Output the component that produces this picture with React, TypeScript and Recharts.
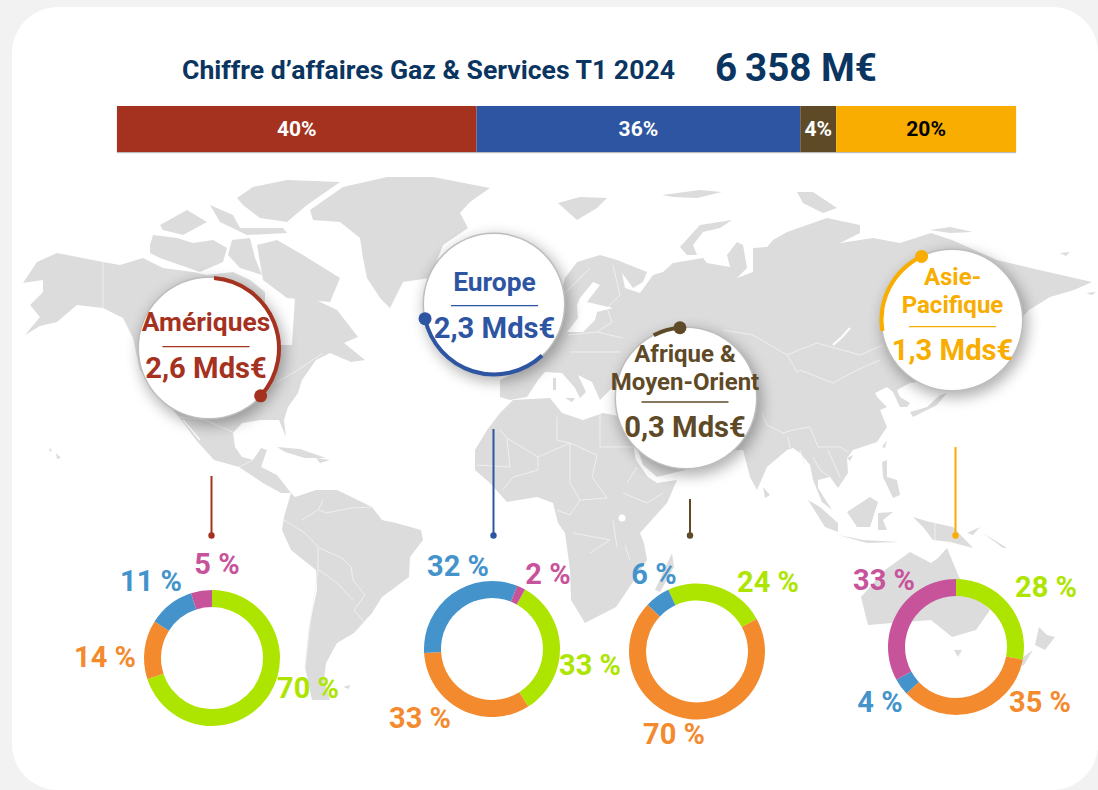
import { Bar, BarChart, Cell, LabelList, Pie, PieChart, XAxis, YAxis } from "recharts"

const WIDTH = 1098
const HEIGHT = 790

// chiffre d'affaires par region (%)
const regionNames = ["Amériques", "Europe", "Afrique & Moyen-Orient", "Asie-Pacifique"]
const regionShares = [40, 36, 4, 20]
const regionColors = ["#A5321F", "#2E55A2", "#5F4A28", "#F8AD00"]
const regionAmounts = ["2,6 Mds€", "2,3 Mds€", "0,3 Mds€", "1,3 Mds€"]
const regionTitleLines = [["Amériques"], ["Europe"], ["Afrique &", "Moyen-Orient"], ["Asie-", "Pacifique"]]

// length of the arc round each bubble, % of the full circle, as drawn in the picture
const arcLengths = [35.5, 33.6, 6.2, 20.4]

// donuts: segments go clockwise, same colour order everywhere
const ameriquesMix = [70, 14, 11, 5]
const europeMix = [33, 33, 32, 2]
const afriqueMix = [24, 70, 6]
const asieMix = [28, 35, 4, 33]
const mixColors = ["#ADE500", "#F48A2E", "#4493CB", "#C7539B"]

const donuts = [
  { values: ameriquesMix, cx: 212, cy: 658, start: 0, labels: [[308, 688], [105, 657], [151, 581], [217, 564]] },
  { values: europeMix, cx: 492, cy: 649, start: 29, labels: [[590, 665], [420, 718], [458, 566], [548, 574]] },
  { values: afriqueMix, cx: 697, cy: 651.5, start: -25, labels: [[768, 582], [674, 734], [654, 574]] },
  { values: asieMix, cx: 956, cy: 647, start: 0, labels: [[1046, 587], [1040, 702], [880, 702], [884, 580]] },
]

const bubbles = [
  { cx: 208.5, cy: 348.4, arcStart: 4.5, tx: 206, titleY: [322], divY: 346.7, amountY: 367.7, lineX: 211.5, lineTop: 476 },
  { cx: 494, cy: 304, arcStart: 137, tx: 494.5, titleY: [281.7], divY: 305.7, amountY: 328, lineX: 493.5, lineTop: 429 },
  { cx: 685.7, cy: 398, arcStart: -27, tx: 685, titleY: [354, 382], divY: 402, amountY: 427, lineX: 690, lineTop: 499 },
  { cx: 952, cy: 320, arcStart: 261, tx: 952.5, titleY: [276.7, 305], divY: 326.7, amountY: 350, lineX: 955.5, lineTop: 447 },
]

const barRow = [
  regionNames.reduce<Record<string, string | number>>(
    (row, name, i) => {
      row[name] = regionShares[i]
      return row
    },
    { name: "CA" },
  ),
]

// rough outline of the background map
const land = [
  // north america
  "25,335 40,326 57,322 77,305 103,308 123,318 133,338 140,370 160,395 179,417 196,440 214,460 239,467 263,483 281,493 291,493 277,475 261,467 267,450 261,448 253,460 242,457 235,447 233,433 242,423 260,420 279,420 286,437 284,420 288,407 298,393 302,380 316,360 330,353 351,362 365,360 344,343 358,337 337,310 316,300 295,297 292,345 265,345 265,292 250,280 233,272 207,275 193,272 163,268 143,258 120,265 103,262 57,253 37,262 23,283 43,280 43,292 30,305 40,317",
  "150,245 153,235 177,238 193,243 213,240 227,248 223,262 200,272 180,265 160,258 150,253",
  "160,225 187,210 207,222 183,235 163,230",
  "210,205 233,215 240,228 283,228 287,233 247,235 220,222",
  "237,198 253,187 287,180 340,182 307,205 287,222 260,218 243,205",
  "232,240 250,238 255,258 262,275 240,268 228,255",
  "257,245 277,240 303,255 340,278 330,302 287,298 263,280",
  // greenland
  "310,210 343,187 387,177 433,177 490,188 470,202 460,213 468,228 443,245 430,278 403,282 390,308 380,298 367,278 363,258 360,238 340,222 313,220",
  // arctic islands
  "558,203 580,197 607,198 597,208 577,220 568,212",
  "680,247 700,225 732,220 720,228 703,232 693,245 697,255 687,255",
  "662,195 700,190 722,192 697,198 673,197",
  "797,192 813,192 837,208 823,213 803,203",
  "930,230 950,227 973,232 950,233",
  "1060,253 1070,252 1066,256",
  "1086,293 1096,292 1092,295",
  // eurasia
  "500,397 500,380 525,368 530,345 555,320 565,278 577,262 600,255 617,260 647,272 643,282 633,288 622,273 625,288 640,293 653,275 663,272 673,263 703,258 707,263 730,267 727,255 737,242 743,245 747,268 737,278 753,272 753,248 767,247 773,240 787,232 827,218 860,225 860,233 840,243 873,238 900,243 931,233 952,240 997,260 1039,270 1092,282 1074,290 1050,297 1029,310 1010,330 985,365 945,378 910,383 897,390 900,397 910,403 907,407 900,407 893,392 887,387 875,393 878,398 887,407 880,410 887,427 877,442 853,450 847,458 848,473 838,488 830,477 818,480 818,488 832,510 822,502 813,480 810,465 800,453 793,448 787,450 767,467 757,490 750,477 743,450 700,452 685,470 657,477 643,465 630,425 632,412 640,395 612,388 600,400 592,382 578,375 586,392 580,398 575,388 562,373 545,372 538,380 527,397 510,400",
  // africa
  "475,450 487,430 500,413 513,400 550,398 562,413 583,420 603,413 628,418 636,460 648,477 657,483 677,480 667,503 640,533 644,543 647,560 623,597 616,607 585,623 571,600 570,570 565,533 558,523 553,503 537,497 507,502 490,483 475,470",
  "655,590 672,553 674,567 660,592",
  // south america
  "291,493 295,497 316,490 337,490 372,507 382,520 396,523 421,530 423,540 410,557 409,577 382,597 372,613 354,633 337,643 326,663 324,680 330,700 312,700 305,667 309,627 317,590 316,570 291,550 282,530 284,517",
  // asia pacific
  "947,393 937,405 913,417 910,412 927,407 940,395",
  "882,447 887,440 885,448",
  "847,458 853,455 850,461",
  "882,462 887,460 887,477 897,480 900,495 893,498 883,477",
  "763,487 770,495 765,498",
  "808,500 820,507 838,523 838,532 825,527",
  "847,512 870,497 878,502 870,527 857,527",
  "838,535 863,540 900,542 867,543",
  "878,513 893,512 883,520 887,530 878,530",
  "913,517 923,520 930,522 953,527 973,548 950,542 933,540 923,527",
  "967,533 980,527 973,535",
  "983,533 1007,548 1003,548",
  "947,548 959,577 990,610 976,630 952,637 931,620 905,622 868,625 861,597 885,570 910,552 931,563 938,558",
  "954,650 962,650 958,657",
  "1039,627 1047,635 1055,637 1045,650 1035,645",
  "1033,650 1024,665 1018,667 1022,658",
  // caribbean and small islands
  "277,447 300,449 326,458 305,458 285,452",
  "316,458 330,460 320,463",
  "49,448 52,450 50,452",
  "56,453 61,458 57,459",
  "343,687 350,685 349,689",
  "553,378 556,378 556,390 553,390",
  "565,398 575,398 572,402",
]

const borders = [
  "723,330 753,335 787,355 817,343 860,355 883,345",
  "787,355 797,372 800,370 833,383 857,370 880,360",
  "762,413 767,425 783,433 793,430 810,427 818,447 840,447 848,452",
  "788,437 790,448",
  "800,450 805,465",
  "813,457 820,470 830,477",
  "828,450 840,477",
  "568,335 597,332 623,338",
  "607,308 612,322 597,332",
  "570,352 600,352 620,352",
  "590,268 563,295",
  "613,265 620,295 607,308",
  "103,262 103,308",
  "277,382 298,370 323,353",
  "179,417 205,420 235,433",
  "239,467 253,460",
  "284,520 305,533 319,548 342,558 351,567 353,580 365,595 354,610 365,623",
  "318,548 318,570 311,617 305,667",
  "319,570 337,583 353,600",
  "319,510 326,513 351,508 372,507",
  "302,520 318,510 323,500",
  "507,438 538,457 570,443 557,440 557,417",
  "500,430 507,438 510,467 477,465",
  "538,457 538,470 513,477 503,490",
  "570,443 597,455 592,477 607,498 580,500 570,483 570,443",
  "600,413 600,447 633,447",
  "623,493 647,503 663,493",
  "627,483 637,467",
  "580,500 570,515 557,510",
  "613,520 617,547",
  "625,545 630,560",
  "573,533 610,540 590,553",
  "935,522 935,541",
]

const donutLabel =
  (values: number[], labels: number[][]) =>
  ({ index }: { index: number }) => (
    <text
      x={labels[index][0]}
      y={labels[index][1]}
      textAnchor="middle"
      dominantBaseline="central"
      fontFamily="Roboto"
      fontWeight={700}
      fontSize={29}
      fill={mixColors[index]}
    >
      {`${values[index]} %`}
    </text>
  )

function WorldMap() {
  return (
    <svg width={WIDTH} height={HEIGHT} style={{ position: "absolute", left: 0, top: 0 }}>
      {land.map((points, i) => (
        <polygon key={i} points={points} fill="#DCDCDC" />
      ))}
      {borders.map((points, i) => (
        <polyline key={i} points={points} fill="none" stroke="#F4F4F4" strokeWidth={0.8} />
      ))}
      <polygon
        points="580,298 593,282 600,285 587,302 613,308 597,312 595,320 583,332 567,332 578,318 577,305"
        fill="#fff"
      />
      <polyline points="833,345 842,337 850,328" fill="none" stroke="#fff" strokeWidth={2} />
      <circle cx={622} cy={518} r={3.5} fill="#fff" />
      <line x1={183} y1={420} x2={200} y2={440} stroke="#fff" strokeWidth={1.2} />
    </svg>
  )
}

function ShareBar() {
  return (
    <div style={{ position: "absolute", left: 117, top: 106, boxShadow: "0 1px 1px #bbb" }}>
      <BarChart
        width={899}
        height={46}
        data={barRow}
        layout="vertical"
        margin={{ top: 0, right: 0, bottom: 0, left: 0 }}
        barCategoryGap={0}
      >
        <XAxis type="number" domain={[0, 100]} hide />
        <YAxis type="category" dataKey="name" hide />
        {regionNames.map((name, i) => (
          <Bar key={name} dataKey={name} stackId="ca" fill={regionColors[i]} isAnimationActive={false}>
            <LabelList
              dataKey={name}
              position="center"
              formatter={(v: number) => `${v}%`}
              fill={i === 3 ? "#000" : "#fff"}
              fontFamily="Roboto"
              fontWeight={700}
              fontSize={21}
            />
          </Bar>
        ))}
      </BarChart>
    </div>
  )
}

function Donuts() {
  return (
    <div style={{ position: "absolute", left: 0, top: 0 }}>
      <PieChart width={WIDTH} height={HEIGHT} margin={{ top: 0, right: 0, bottom: 0, left: 0 }}>
        {donuts.map((d, i) => (
          <Pie
            key={i}
            data={d.values.map((value) => ({ value }))}
            dataKey="value"
            cx={d.cx}
            cy={d.cy}
            innerRadius={51}
            outerRadius={68}
            startAngle={90 - d.start}
            endAngle={90 - d.start - 360}
            stroke="none"
            label={donutLabel(d.values, d.labels)}
            labelLine={false}
            isAnimationActive={false}
          >
            {d.values.map((_, j) => (
              <Cell key={j} fill={mixColors[j]} />
            ))}
          </Pie>
        ))}
      </PieChart>
    </div>
  )
}

function Bubbles() {
  return (
    <>
      <svg width={WIDTH} height={HEIGHT} style={{ position: "absolute", left: 0, top: 0 }}>
        {bubbles.map((b, i) => (
          <g key={i} stroke={regionColors[i]} fill={regionColors[i]}>
            <line x1={b.lineX} x2={b.lineX} y1={b.lineTop} y2={535} strokeWidth={2} />
            <circle cx={b.lineX} cy={535.5} r={3.2} stroke="none" />
          </g>
        ))}
      </svg>
      {bubbles.map((b, i) => (
        <div
          key={i}
          style={{
            position: "absolute",
            left: b.cx - 70,
            top: b.cy - 70,
            width: 140,
            height: 140,
            borderRadius: "50%",
            background: "#fff",
            boxShadow: "0 0 0 1.5px #BDBDBD, 3px 5px 14px 3px rgba(0,0,0,0.3)",
          }}
        />
      ))}
      <div style={{ position: "absolute", left: 0, top: 0 }}>
        <PieChart width={WIDTH} height={HEIGHT} margin={{ top: 0, right: 0, bottom: 0, left: 0 }}>
          {bubbles.map((b, i) => (
            <Pie
              key={i}
              data={[{ value: arcLengths[i] }, { value: 100 - arcLengths[i] }]}
              dataKey="value"
              cx={b.cx}
              cy={b.cy}
              innerRadius={68.5}
              outerRadius={72.5}
              startAngle={90 - b.arcStart}
              endAngle={90 - b.arcStart - 360}
              stroke="none"
              isAnimationActive={false}
            >
              <Cell fill={regionColors[i]} />
              <Cell fill="transparent" />
            </Pie>
          ))}
        </PieChart>
      </div>
      <svg width={WIDTH} height={HEIGHT} style={{ position: "absolute", left: 0, top: 0 }} fontFamily="Roboto" fontWeight={700}>
        {bubbles.map((b, i) => {
          const end = ((b.arcStart + (arcLengths[i] * 360) / 100) * Math.PI) / 180
          return (
            <g key={i} fill={regionColors[i]} textAnchor="middle" dominantBaseline="central">
              <circle cx={b.cx + 70.5 * Math.sin(end)} cy={b.cy - 70.5 * Math.cos(end)} r={6.5} />
              {regionTitleLines[i].map((line, j) => (
                <text key={j} x={b.tx} y={b.titleY[j]} fontSize={i > 1 ? 24 : 26.4}>
                  {line}
                </text>
              ))}
              <line x1={b.tx - 43.5} x2={b.tx + 43.5} y1={b.divY} y2={b.divY} stroke={regionColors[i]} strokeWidth={1.3} />
              <text x={b.tx} y={b.amountY} fontSize={29.2}>
                {regionAmounts[i]}
              </text>
            </g>
          )
        })}
      </svg>
    </>
  )
}

export default function App() {
  return (
    <div style={{ position: "fixed", left: 0, top: 0, width: WIDTH, height: HEIGHT, overflow: "hidden", background: "#F2F2F2" }}>
      <div
        style={{
          position: "absolute",
          left: 12,
          top: 7,
          width: 1086,
          height: 783,
          borderRadius: 46,
          background: "#fff",
        }}
      />
      <WorldMap />
      <svg width={WIDTH} height={100} style={{ position: "absolute", left: 0, top: 0 }} fontFamily="Roboto" fontWeight={700} fill="#0B3561">
        <text x={182} y={69} fontSize={26.6} dominantBaseline="central">
          Chiffre d’affaires Gaz &amp; Services T1 2024
        </text>
        <text x={715} y={67} fontSize={38.6} dominantBaseline="central">
          {"6\u2009358 M€"}
        </text>
      </svg>
      <ShareBar />
      <Donuts />
      <Bubbles />
    </div>
  )
}
